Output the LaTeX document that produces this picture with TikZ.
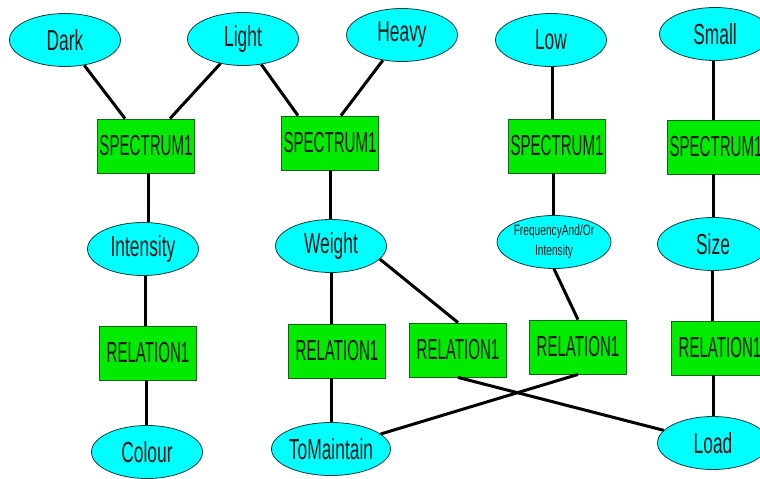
\documentclass[tikz,border=0pt]{standalone}
\usepackage{fontspec}
\setmainfont{Liberation Sans}
\newfontfamily\ellfont[FakeStretch=0.6]{Liberation Sans}
\newfontfamily\boxfont[FakeStretch=0.52]{Liberation Sans}
\newfontfamily\smallfont[FakeStretch=0.68]{Liberation Sans}
\usetikzlibrary{shapes.geometric}
\definecolor{ellfill}{RGB}{0,255,255}
\definecolor{ellline}{RGB}{20,60,60}
\definecolor{boxfill}{RGB}{0,235,0}
\definecolor{boxline}{RGB}{20,100,20}
\tikzset{
  concept/.style={ellipse, draw=ellline, fill=ellfill, line width=0.8pt,
    minimum width=111pt, minimum height=53pt, inner sep=0pt,
    font=\ellfont\fontsize{29}{32}\selectfont, text=black!90},
  relbox/.style={rectangle, draw=boxline, fill=boxfill, line width=0.8pt,
    minimum width=97pt, minimum height=54pt, inner sep=0pt,
    font=\boxfont\fontsize{29}{32}\selectfont, text=black!90},
  link/.style={line width=3pt, black}
}
\begin{document}
\begin{tikzpicture}[x=1pt,y=-1pt]
\clip (0,0) rectangle (760,479);
\fill[white] (0,0) rectangle (760,479);
% top concepts
\node[concept] (dark)  at (65,40)  {Dark};
\node[concept] (light) at (243,39) {Light};
\node[concept] (heavy) at (402,35) {Heavy};
\node[concept] (low)   at (551,40) {Low};
\node[concept] (small) at (715,34) {Small};
% spectrum boxes
\node[relbox] (s1) at (146,146) {SPECTRUM1};
\node[relbox] (s2) at (330,143) {SPECTRUM1};
\node[relbox] (s3) at (557,146) {SPECTRUM1};
\node[relbox] (s4) at (716,147) {SPECTRUM1};
% middle concepts
\node[concept] (int) at (143,249) {Intensity};
\node[concept] (wt)  at (331,246) {Weight};
\node[concept, font=\smallfont\fontsize{15}{20}\selectfont, align=center] (fq) at (554,242) {FrequencyAnd/Or\\Intensity};
\node[concept] (sz)  at (713,244) {Size};
% relation boxes
\node[relbox] (r1) at (148,353) {RELATION1};
\node[relbox] (r2) at (337,351) {RELATION1};
\node[relbox] (r3) at (458,350) {RELATION1};
\node[relbox] (r4) at (578,347) {RELATION1};
\node[relbox] (r5) at (720,348) {RELATION1};
% bottom concepts
\node[concept] (col)  at (147,452) {Colour};
\node[concept] (tm)   at (331,449) {ToMaintain};
\node[concept] (load) at (713,443) {Load};
% connectors
\draw[link] (dark) -- ([xshift=-21pt]s1.north);
\draw[link] (light) -- ([xshift=24pt]s1.north);
\draw[link] (light) -- ([xshift=-32pt]s2.north);
\draw[link] (heavy) -- ([xshift=11pt]s2.north);
\draw[link] ([xshift=1pt]low.south) -- ([xshift=1pt]low.south |- s3.north);
\draw[link] ([xshift=-2pt]small.south) -- ([xshift=-2pt]small.south |- s4.north);
\draw[link] ([xshift=2pt]s1.south) -- ([xshift=2pt]s1.south |- int.north);
\draw[link] (s2.south) -- (s2.south |- wt.north);
\draw[link] ([xshift=-4pt]s3.south) -- ([xshift=-4pt]s3.south |- fq.north);
\draw[link] ([xshift=-3pt]s4.south) -- ([xshift=-3pt]s4.south |- sz.north);
\draw[link] ([xshift=2pt]int.south) -- ([xshift=2pt]int.south |- r1.north);
\draw[link] (wt.south) -- (wt.south |- r2.north);
\draw[link] (wt.-15) -- (r3.north);
\draw[link] (fq.south) -- (r4.north);
\draw[link] ([xshift=-1pt]sz.south) -- ([xshift=-1pt]sz.south |- r5.north);
\draw[link] ([xshift=-2pt]r1.south) -- ([xshift=-2pt]r1.south |- col.north);
\draw[link] (tm.north) -- (tm.north |- r2.south);
\draw[link] (r4.south) -- (tm);
\draw[link] (r3.south) -- (load);
\draw[link] (load.north) -- (load.north |- r5.south);
\end{tikzpicture}
\end{document}
